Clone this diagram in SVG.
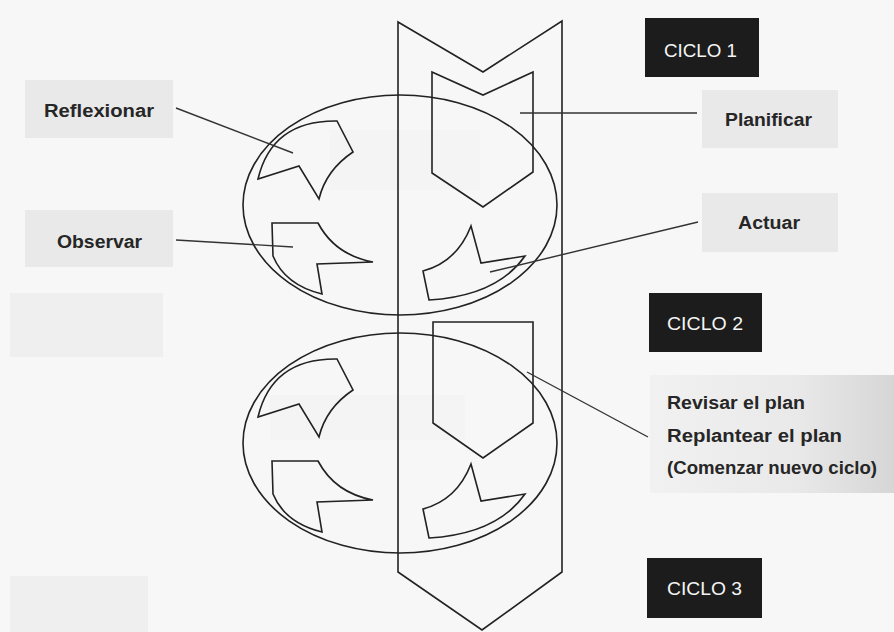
<svg xmlns="http://www.w3.org/2000/svg" width="894" height="632" viewBox="0 0 894 632">
<defs>
<linearGradient id="gr" x1="0" y1="0" x2="1" y2="0">
<stop offset="0" stop-color="#f1f1f1"/>
<stop offset="0.6" stop-color="#e9e9e9"/>
<stop offset="1" stop-color="#d6d6d6"/>
</linearGradient>
</defs>
<style>
.ln{fill:none;stroke:#222;stroke-width:1.6;stroke-linejoin:miter}
.cn{fill:none;stroke:#333;stroke-width:1.4}
.lbl{font-family:"Liberation Sans",Arial,sans-serif;font-weight:bold;font-size:18px;fill:#262626}
.cyc{font-family:"Liberation Sans",Arial,sans-serif;font-size:18px;fill:#f4f4f4}
.gbox{fill:#e9e9e9}
.bbox{fill:#1c1c1c}
.ghost{fill:#efefef}
</style>
<rect x="0" y="0" width="894" height="632" fill="#f7f7f7"/>
<g id="ghosts">
<rect class="ghost" x="10" y="293" width="153" height="64"/>
<rect class="ghost" x="10" y="576" width="138" height="56"/>
<rect x="330" y="130" width="150" height="60" fill="#f4f4f4"/>
<rect x="270" y="395" width="195" height="45" fill="#f4f4f4"/>
</g>
<g id="chevron">
<path class="ln" d="M398,22 L483,72 L562,21 L562,572 L482,630 L398,572 Z"/>
</g>
<g id="ciclo1-ellipse">
<ellipse class="ln" cx="400" cy="205" rx="157" ry="110"/>
</g>
<g id="ciclo2-ellipse">
<ellipse class="ln" cx="400" cy="443" rx="157" ry="110"/>
</g>
<g id="reflexionar-shape">
<path class="ln" d="M258,179 Q272,120 337,121 L353,152 Q326,170 319,199 L299,166 Z"/>
</g>
<g id="observar-shape">
<path class="ln" d="M272,223 L318,223 Q335,255 373,262 L317,264 L322,294 Q285,285 273,256 Z"/>
</g>
<g id="planificar-shape">
<path class="ln" d="M432,72 L483,95 L533,72 L533,172 L483,207 L432,173 Z"/>
</g>
<g id="actuar-shape">
<path class="ln" d="M471,226 L481,263 L525,256 Q497,296 429,300 L423,271 Q457,262 471,226 Z"/>
</g>
<g id="c2-reflexionar-shape" transform="translate(0,238)">
<path class="ln" d="M258,179 Q272,120 337,121 L353,152 Q326,170 319,199 L299,166 Z"/>
</g>
<g id="c2-observar-shape" transform="translate(0,238)">
<path class="ln" d="M272,223 L318,223 Q335,255 373,262 L317,264 L322,294 Q285,285 273,256 Z"/>
</g>
<g id="c2-planificar-shape">
<path class="ln" d="M433,322 L533,322 L533,423 L483,458 L433,423 Z"/>
</g>
<g id="c2-actuar-shape" transform="translate(0,238)">
<path class="ln" d="M471,226 L481,263 L525,256 Q497,296 429,300 L423,271 Q457,262 471,226 Z"/>
</g>
<g id="connectors">
<line class="cn" x1="176" y1="108" x2="293" y2="153"/>
<line class="cn" x1="176" y1="240" x2="293" y2="247"/>
<line class="cn" x1="520" y1="113" x2="697" y2="113"/>
<line class="cn" x1="490" y1="272" x2="698" y2="222"/>
<line class="cn" x1="527" y1="372" x2="648" y2="437"/>
</g>
<g id="reflexionar">
<rect class="gbox" x="25" y="80" width="148" height="58"/>
<text class="lbl" x="44" y="117" textLength="110" lengthAdjust="spacingAndGlyphs">Reflexionar</text>
</g>
<g id="observar">
<rect class="gbox" x="25" y="210" width="148" height="57"/>
<text class="lbl" x="57" y="248" textLength="85" lengthAdjust="spacingAndGlyphs">Observar</text>
</g>
<g id="planificar">
<rect class="gbox" x="702" y="90" width="136" height="58"/>
<text class="lbl" x="725" y="126" textLength="87" lengthAdjust="spacingAndGlyphs">Planificar</text>
</g>
<g id="actuar">
<rect class="gbox" x="702" y="193" width="136" height="59"/>
<text class="lbl" x="738" y="229" textLength="62" lengthAdjust="spacingAndGlyphs">Actuar</text>
</g>
<g id="revisar">
<rect x="650" y="375" width="244" height="118" fill="url(#gr)"/>
<text class="lbl" x="667" y="409" textLength="138" lengthAdjust="spacingAndGlyphs">Revisar el plan</text>
<text class="lbl" x="667" y="442" textLength="175" lengthAdjust="spacingAndGlyphs">Replantear el plan</text>
<text class="lbl" x="667" y="474" textLength="210" lengthAdjust="spacingAndGlyphs">(Comenzar nuevo ciclo)</text>
</g>
<g id="ciclo1">
<rect class="bbox" x="645" y="18" width="114" height="59"/>
<text class="cyc" x="664" y="57" textLength="73" lengthAdjust="spacingAndGlyphs">CICLO 1</text>
</g>
<g id="ciclo2">
<rect class="bbox" x="649" y="293" width="113" height="59"/>
<text class="cyc" x="667" y="330" textLength="76" lengthAdjust="spacingAndGlyphs">CICLO 2</text>
</g>
<g id="ciclo3">
<rect class="bbox" x="647" y="558" width="115" height="60"/>
<text class="cyc" x="667" y="595" textLength="75" lengthAdjust="spacingAndGlyphs">CICLO 3</text>
</g>
</svg>
